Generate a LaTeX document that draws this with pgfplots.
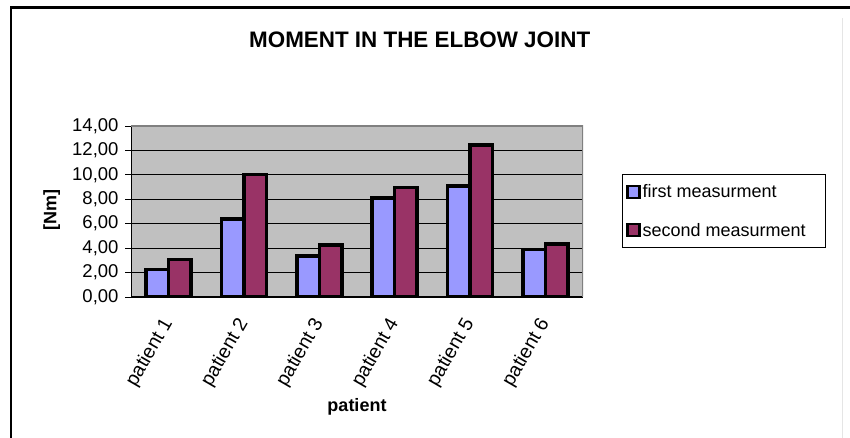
\documentclass[border=0pt]{standalone}
\usepackage{pgfplots}
\pgfplotsset{compat=1.18}
\usepackage{fontspec}
\setmainfont{Liberation Sans}
\definecolor{firstc}{HTML}{9999FF}
\definecolor{secondc}{HTML}{993366}
\definecolor{plotbg}{HTML}{C0C0C0}
\definecolor{frameg}{HTML}{808080}
\newcommand{\fs}[1]{\fontsize{#1bp}{#1bp}\selectfont}
\begin{document}
\begin{tikzpicture}
\useasboundingbox (0bp,0bp) rectangle (850bp,438bp);
% chart frame
\draw[line width=2.5bp] (11bp,0bp) -- (11bp,430.7bp) -- (850bp,430.7bp);
\draw[black!10, line width=0.8bp] (842bp,0bp) -- (842bp,420bp);
% title
\node[anchor=base, font=\fs{22.4}\bfseries] at (419.7bp,390.7bp) {MOMENT IN THE ELBOW JOINT};
\begin{axis}[
  at={(131bp,141bp)}, anchor=south west,
  scale only axis, width=452bp, height=171bp,
  xmin=-0.5, xmax=5.5, ymin=0, ymax=14,
  ytick={0,2,...,14},
  xtick={0,...,5},
  xticklabels={patient 1,patient 2,patient 3,patient 4,patient 5,patient 6},
  minor xtick={-0.5,0.5,...,5.5},
  tick align=outside, tick pos=left,
  major tick length=6bp, minor tick length=6bp,
  xtick style={draw=none},
  minor x tick style={black, line width=0.9bp},
  y tick style={black, line width=0.9bp},
  axis background/.style={fill=plotbg},
  axis line style={draw=none},
  ymajorgrids, major grid style={black, line width=0.8bp},
  yticklabel style={font=\fs{18.5}, xshift=-3bp, /pgf/number format/.cd, fixed, fixed zerofill, precision=2, use comma, assume math mode=true},
  xticklabel style={font=\fs{19.5}, yshift=-17bp, rotate=60, anchor=east, inner sep=0pt},
  xlabel={patient}, ylabel={[Nm]},
  xlabel style={at={(axis description cs:0.5,-0.643)}, anchor=center, font=\fs{18}\bfseries},
  ylabel style={at={(axis description cs:-0.1754,0.509)}, anchor=center, rotate=0, font=\fs{18}\bfseries},
  ybar, bar width=22.6bp,
  legend style={at={(axis description cs:1.086,0.719)}, anchor=north west,
    draw=black, line width=0.8bp, font=\fs{18}, inner xsep=4bp, inner ysep=8bp,
    row sep=20bp, legend cell align=left},
  legend image code/.code={\draw[#1, draw=black, line width=2.4bp] (0bp,-6bp) rectangle (12bp,6bp);},
]
\addplot[fill=firstc, draw=black, line width=3.6bp, bar shift=-11.3bp]
  coordinates {(0,2.25) (1,6.37) (2,3.35) (3,8.12) (4,9.11) (5,3.90)};
\addplot[fill=secondc, draw=black, line width=3.6bp, bar shift=11.3bp]
  coordinates {(0,3.08) (1,10.04) (2,4.28) (3,8.95) (4,12.46) (5,4.34)};
\legend{first measurment, second measurment\rule{14bp}{0pt}}
% plot area frame
\draw[black, line width=1.2bp] (rel axis cs:0,1) -- (rel axis cs:0,0) -- (rel axis cs:1,0);
\draw[frameg, line width=3bp] (rel axis cs:0,1) -- (rel axis cs:1,1) -- (rel axis cs:1,0);
\end{axis}
\end{tikzpicture}
\end{document}
